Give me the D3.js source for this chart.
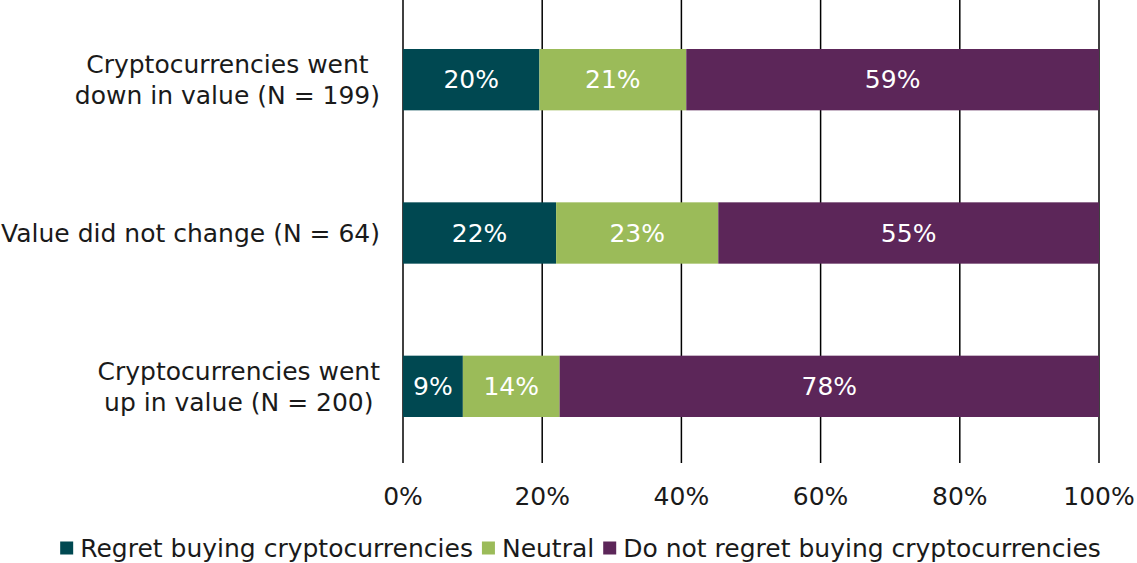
<!DOCTYPE html>
<html>
<head>
<meta charset="utf-8">
<script src="https://cdn.jsdelivr.net/npm/d3@7"></script>
<style>
  body { margin: 0; background: #fff; }
  text { font-family: "DejaVu Sans", Verdana, sans-serif; fill: #1a1a1a; }
</style>
</head>
<body>
<div id="chart"></div>
<script>
// categories (top to bottom), each label split into its wrapped lines
var categories = [
  ["Cryptocurrencies went", "down in value (N = 199)"],
  ["Value did not change (N = 64)"],
  ["Cryptocurrencies went", "up in value (N = 200)"]
];
var seriesNames = ["Regret buying cryptocurrencies", "Neutral", "Do not regret buying cryptocurrencies"];
var regret    = [19.6, 22.0, 8.6];
var neutral   = [21.1, 23.3, 13.9];
var noRegret  = [59.3, 54.7, 77.5];
var tickValues = [0, 20, 40, 60, 80, 100];
var colors = ["#004851", "#9bbb59", "#5c2659"];

var width = 1137, height = 563;
var fontSize = 25;
var margin = {top: 3, left: 403, right: 38};
var plotBottom = 463;

var svg = d3.select("#chart").append("svg")
    .attr("width", width)
    .attr("height", height);

var x = d3.scaleLinear().domain([0, 100]).range([margin.left, width - margin.right]);
var y = d3.scaleBand().domain(d3.range(categories.length)).range([margin.top, plotBottom]).paddingInner(0.6).paddingOuter(0.3);

var color = d3.scaleOrdinal().domain(seriesNames).range(colors);

// build stacked data
var rows = categories.map(function(c, i) {
  return {idx: i, "Regret buying cryptocurrencies": regret[i], "Neutral": neutral[i], "Do not regret buying cryptocurrencies": noRegret[i]};
});
var stacked = d3.stack().keys(seriesNames)(rows);

// gridlines (behind bars)
svg.append("g")
  .selectAll("line")
  .data(tickValues)
  .enter().append("line")
    .attr("x1", function(d) { return x(d); })
    .attr("x2", function(d) { return x(d); })
    .attr("y1", 0)
    .attr("y2", plotBottom)
    .attr("stroke", "#000")
    .attr("stroke-width", 1.5);

// x axis labels
svg.append("g")
  .selectAll("text")
  .data(tickValues)
  .enter().append("text")
    .attr("x", function(d) { return x(d); })
    .attr("y", 496)
    .attr("dy", "0.35em")
    .attr("text-anchor", "middle")
    .style("font-size", fontSize + "px")
    .text(function(d) { return d + "%"; });

// bars
var layer = svg.selectAll(".layer")
    .data(stacked)
  .enter().append("g")
    .attr("class", "layer")
    .attr("fill", function(d) { return color(d.key); });

layer.selectAll("rect")
    .data(function(d) { return d; })
  .enter().append("rect")
    .attr("x", function(d) { return x(d[0]); })
    .attr("width", function(d) { return x(d[1]) - x(d[0]); })
    .attr("y", function(d) { return y(d.data.idx); })
    .attr("height", y.bandwidth());

layer.selectAll("text")
    .data(function(d) { return d; })
  .enter().append("text")
    .attr("x", function(d) { return (x(d[0]) + x(d[1])) / 2; })
    .attr("y", function(d) { return y(d.data.idx) + y.bandwidth() / 2; })
    .attr("dy", "0.35em")
    .attr("text-anchor", "middle")
    .style("font-size", fontSize + "px")
    .style("fill", "#fff")
    .text(function(d) { return Math.round(d[1] - d[0]) + "%"; });

// category labels: block right-aligned, lines centered within block
var labelRight = 380;
var lineH = 31;
categories.forEach(function(lines, i) {
  var g = svg.append("g");
  var cy = y(i) + y.bandwidth() / 2;
  var texts = g.selectAll("text")
    .data(lines)
    .enter().append("text")
      .attr("y", function(d, j) { return cy + (j - (lines.length - 1) / 2) * lineH; })
      .attr("dy", "0.35em")
      .attr("text-anchor", "middle")
      .style("font-size", fontSize + "px")
      .text(function(d) { return d; });
  var maxW = 0;
  texts.each(function() { maxW = Math.max(maxW, this.getComputedTextLength()); });
  texts.attr("x", labelRight - maxW / 2);
});

// legend
var legend = svg.append("g");
var lx = 0;
var items = legend.selectAll("g")
    .data(seriesNames)
  .enter().append("g");
items.append("rect")
    .attr("width", 13)
    .attr("height", 13)
    .attr("y", -6.5)
    .attr("fill", function(d) { return color(d); });
items.append("text")
    .attr("x", 20)
    .attr("dy", "0.35em")
    .style("font-size", fontSize + "px")
    .text(function(d) { return d; });
items.each(function() {
  d3.select(this).attr("transform", "translate(" + lx + ",0)");
  lx += this.getBBox().width + 9;
});
lx -= 9;
legend.attr("transform", "translate(" + ((63 + 1098) / 2 - lx / 2) + ",548)");
</script>
</body>
</html>
